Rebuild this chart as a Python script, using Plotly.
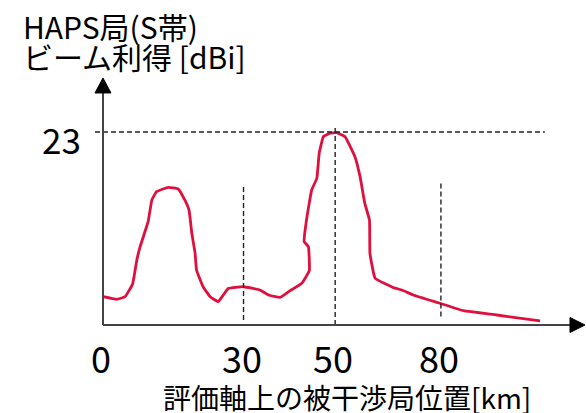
import plotly.graph_objects as go

# ---- data (schematic axis units; km marks placed as drawn in the reference) ----
dist_pos = [0.06, 2.9, 4.7, 6.3, 7.2, 7.9, 9.6, 10.4, 11.4, 13.9, 16.0, 17.4, 18.3, 18.9,
            19.6, 19.9, 21.3, 22.8, 24.5, 25.6, 26.7, 29.9, 33.4, 35.2, 37.7, 39.8, 42.3,
            43.9, 43.7, 42.8, 43.3, 44.4, 45.5, 46.0, 46.9, 48.3, 49.7, 51.5, 53.6, 54.7,
            55.7, 56.7, 56.8, 57.9, 61.8, 63.6, 66.0, 71.7, 76.7, 83.8, 93.0]
gain_dbi = [3.37, 3.06, 3.37, 4.89, 7.75, 9.33, 12.31, 14.9, 15.89, 16.41, 16.21, 14.9, 13.71,
            10.93, 8.55, 6.56, 4.56, 3.37, 2.78, 3.58, 4.37, 4.56, 4.17, 3.58, 3.30, 4.09,
            4.97, 6.47, 9.33, 9.93, 12.51, 16.09, 17.49, 20.46, 22.44, 22.85, 22.92, 22.44,
            20.06, 17.68, 14.51, 12.51, 8.55, 5.57, 4.45, 4.17, 3.58, 2.59, 1.70, 1.19, 0.48]

tick_labels = ["0", "30", "50", "80"]
tick_pos = [0.0, 29.9, 49.4, 71.9]
peak_gain = 23
peak_label = "23"
# dashed guide extents (gain units)
vline_top = [None, 16.7, 23.8, 17.1]
vline_bottom = [None, 0.6, 0.0, 1.0]

y_title_1 = "HAPS局(S帯)"
y_title_2 = "ビーム利得 [dBi]"
x_title = "評価軸上の被干渉局位置[km]"

# ---- figure geometry ----
W, H = 586, 413
ML, MT, MB, MR = 88, 70, 75, 0
PW, PH = W - ML - MR, H - MT - MB
x_range = [-3.19, 102.77]
y_range = [-1.55, 30.39]
x_end = 102.55      # arrow tip
y_end = 29.44
px_x = 4.7          # px per x unit
px_y = 8.39         # px per y unit


def paper_x(px):
    return (px - ML) / PW


def paper_y(py):
    return (MT + PH - py) / PH


FONT = "Noto Sans CJK JP, Noto Sans, sans-serif"
RED = "#e0103e"
AX = "#444444"
DASH = "#222222"

fig = go.Figure()
fig.add_trace(go.Scatter(x=dist_pos, y=gain_dbi, mode="lines",
                         line=dict(color=RED, width=2.8, shape="spline", smoothing=0.3),
                         hoverinfo="skip", showlegend=False))

shapes = []
shapes.append(dict(type="line", xref="x", yref="y", x0=-1.7, x1=94.0, y0=peak_gain, y1=peak_gain,
                   line=dict(color=DASH, width=1.4, dash="5px,3px")))
for p, t, b in zip(tick_pos, vline_top, vline_bottom):
    if t is None:
        continue
    shapes.append(dict(type="line", xref="x", yref="y", x0=p, x1=p, y0=b, y1=t,
                       line=dict(color=DASH, width=1.4, dash="5px,3px")))
head_len_x = 15 / px_x
head_half_y = 7.5 / px_y
head_len_y = 15 / px_y
head_half_x = 8 / px_x
shapes.append(dict(type="line", xref="x", yref="y", x0=0, x1=x_end - head_len_x, y0=0, y1=0,
                   line=dict(color=AX, width=2)))
shapes.append(dict(type="line", xref="x", yref="y", x0=0, x1=0, y0=0, y1=y_end - head_len_y,
                   line=dict(color=AX, width=2)))
shapes.append(dict(type="path", xref="x", yref="y",
                   path=f"M {x_end - head_len_x},{head_half_y} L {x_end},0 L {x_end - head_len_x},{-head_half_y} Z",
                   fillcolor="black", line=dict(color="black", width=1)))
shapes.append(dict(type="path", xref="x", yref="y",
                   path=f"M {-head_half_x},{y_end - head_len_y} L 0,{y_end} L {head_half_x},{y_end - head_len_y} Z",
                   fillcolor="black", line=dict(color="black", width=1)))

annotations = []
for p, lab in zip(tick_pos, tick_labels):
    annotations.append(dict(x=p, y=0, xref="x", yref="y", text=lab, showarrow=False,
                            xanchor="center", yanchor="middle", xshift=-2, yshift=-32,
                            font=dict(family=FONT, size=36, color="black")))
annotations.append(dict(x=0, y=peak_gain, xref="x", yref="y", text=peak_label, showarrow=False,
                        xanchor="right", yanchor="middle", xshift=-20, yshift=-6,
                        font=dict(family=FONT, size=35, color="black")))
annotations.append(dict(x=paper_x(21), y=paper_y(26), xref="paper", yref="paper", text=y_title_1,
                        showarrow=False, xanchor="left", yanchor="middle",
                        font=dict(family=FONT, size=30, color="black")))
annotations.append(dict(x=paper_x(21), y=paper_y(56), xref="paper", yref="paper", text=y_title_2,
                        showarrow=False, xanchor="left", yanchor="middle",
                        font=dict(family=FONT, size=30, color="black")))
annotations.append(dict(x=paper_x(347), y=paper_y(397), xref="paper", yref="paper", text=x_title,
                        showarrow=False, xanchor="center", yanchor="middle",
                        font=dict(family=FONT, size=28, color="black")))

fig.update_layout(
    width=W, height=H,
    margin=dict(l=ML, r=MR, t=MT, b=MB),
    paper_bgcolor="white", plot_bgcolor="white",
    xaxis=dict(range=x_range, visible=False, fixedrange=True),
    yaxis=dict(range=y_range, visible=False, fixedrange=True),
    shapes=shapes, annotations=annotations,
    showlegend=False,
)
fig.write_html("out.html", config={"displayModeBar": False},
               post_script="document.body.style.margin='0';document.body.style.overflow='hidden';")
